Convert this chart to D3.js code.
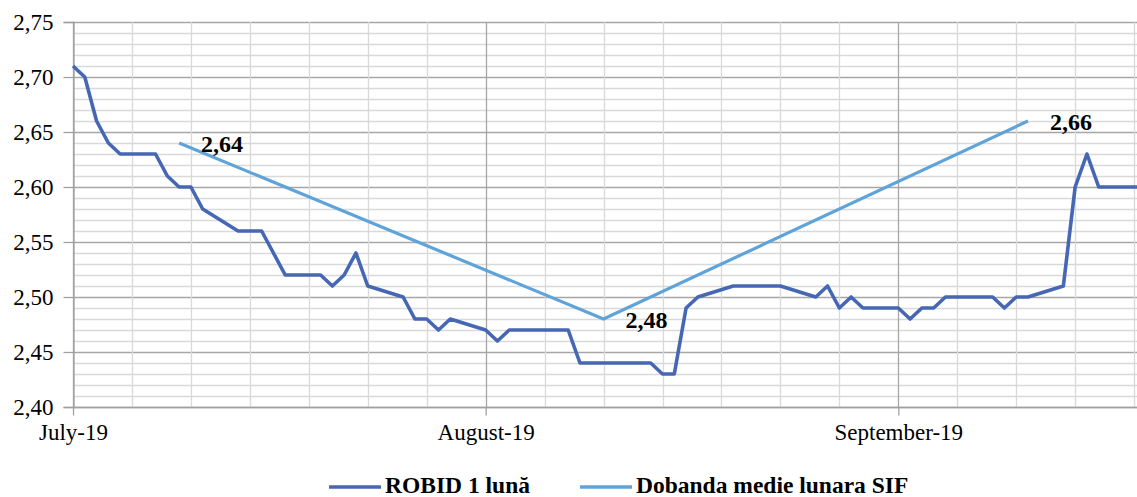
<!DOCTYPE html>
<html>
<head>
<meta charset="utf-8">
<script src="https://cdn.jsdelivr.net/npm/d3@7"></script>
<style>
  body { margin: 0; background: #fff; }
  text { font-family: "Liberation Serif", "Times New Roman", serif; }
</style>
</head>
<body>
<div id="vis"></div>
<script>
// ROBID 1 month, business days (Romanian interbank)
const robidDates = [
  "2019-07-01","2019-07-02","2019-07-03","2019-07-04","2019-07-05",
  "2019-07-08","2019-07-09","2019-07-10","2019-07-11","2019-07-12",
  "2019-07-15","2019-07-16","2019-07-17","2019-07-18","2019-07-19",
  "2019-07-22","2019-07-23","2019-07-24","2019-07-25","2019-07-26",
  "2019-07-29","2019-07-30","2019-07-31","2019-08-01","2019-08-02",
  "2019-08-05","2019-08-06","2019-08-07","2019-08-08","2019-08-09",
  "2019-08-12","2019-08-13","2019-08-14","2019-08-15","2019-08-16",
  "2019-08-19","2019-08-20","2019-08-21","2019-08-22","2019-08-23",
  "2019-08-26","2019-08-27","2019-08-28","2019-08-29","2019-08-30",
  "2019-09-02","2019-09-03","2019-09-04","2019-09-05","2019-09-06",
  "2019-09-09","2019-09-10","2019-09-11","2019-09-12","2019-09-13",
  "2019-09-16","2019-09-17","2019-09-18","2019-09-19","2019-09-20",
  "2019-09-23","2019-09-24","2019-09-25","2019-09-26","2019-09-27",
  "2019-09-30"
];
const robidValues = [
  2.71, 2.70, 2.66, 2.64, 2.63,
  2.63, 2.61, 2.60, 2.60, 2.58,
  2.56, 2.56, 2.56, 2.54, 2.52,
  2.52, 2.51, 2.52, 2.54, 2.51,
  2.50, 2.48, 2.48, 2.47, 2.48,
  2.47, 2.46, 2.47, 2.47, 2.47,
  2.47, 2.44, 2.44, 2.44, 2.44,
  2.44, 2.43, 2.43, 2.49, 2.50,
  2.51, 2.51, 2.51, 2.51, 2.51,
  2.50, 2.51, 2.49, 2.50, 2.49,
  2.49, 2.48, 2.49, 2.49, 2.50,
  2.50, 2.50, 2.49, 2.50, 2.50,
  2.51, 2.60, 2.63, 2.60, 2.60,
  2.60
];

// monthly average SIF rate
const sifDates = ["2019-07-10", "2019-08-15", "2019-09-20"];
const sifValues = [2.64, 2.48, 2.66];
const sifLabels = ["2,64", "2,48", "2,66"];

// axis: labels every 35 days, gridlines every 5 days
const monthTicks = ["2019-07-01", "2019-08-05", "2019-09-09"];
const monthLabels = ["July-19", "August-19", "September-19"];
const yTicks = [2.40, 2.45, 2.50, 2.55, 2.60, 2.65, 2.70, 2.75];

const seriesNames = ["ROBID 1 lună", "Dobanda medie lunara SIF"];
const seriesColors = ["#4667b3", "#5ea3d9"];

const W = 1137, H = 497;
const margin = { left: 73, top: 22, bottom: 407 };
const dayPx = 11.79;

const parse = d3.utcParse("%Y-%m-%d");
const start = parse("2019-07-01");
const end = parse("2019-09-30");

const x = d3.scaleUtc()
  .domain([start, end])
  .range([margin.left, margin.left + d3.utcDay.count(start, end) * dayPx]);
const y = d3.scaleLinear()
  .domain([2.40, 2.75])
  .range([margin.bottom, margin.top]);

const svg = d3.select("#vis").append("svg")
  .attr("width", W)
  .attr("height", H);

svg.append("rect").attr("width", W).attr("height", H).attr("fill", "#fff");

// horizontal gridlines (minor every 0.01, major every 0.05)
const yMinor = d3.range(0, 36).map(i => 2.40 + i * 0.01);
svg.append("g")
  .selectAll("line")
  .data(yMinor)
  .enter()
  .append("line")
    .attr("x1", margin.left).attr("x2", W)
    .attr("y1", d => Math.round(y(d)) + 0.5)
    .attr("y2", d => Math.round(y(d)) + 0.5)
    .attr("stroke", (d, i) => i % 5 === 0 ? "#a6a6a6" : "#d9d9d9")
    .attr("stroke-width", 1.3);

// vertical gridlines
const xMinor = d3.utcDay.range(start, d3.utcDay.offset(end, 1), 5);
svg.append("g")
  .selectAll("line")
  .data(xMinor)
  .enter()
  .append("line")
    .attr("x1", d => Math.round(x(d)) + 0.5)
    .attr("x2", d => Math.round(x(d)) + 0.5)
    .attr("y1", margin.top).attr("y2", margin.bottom)
    .attr("stroke", (d, i) => i % 7 === 0 ? "#a6a6a6" : "#d9d9d9")
    .attr("stroke-width", 1.3);

// y axis
const yAxis = svg.append("g")
  .attr("transform", "translate(" + (margin.left + 0.5) + ",0)")
  .call(d3.axisLeft(y).tickValues(yTicks).tickSize(10).tickPadding(10)
    .tickFormat(d => d3.format(".2f")(d).replace(".", ",")));
yAxis.select(".domain").attr("stroke", "#a0a0a0").attr("stroke-width", 1.3);
yAxis.selectAll(".tick line").attr("stroke", "#a0a0a0").attr("stroke-width", 1.3);
yAxis.selectAll("text")
  .attr("font-family", "Liberation Serif")
  .attr("font-size", 23)
  .attr("fill", "#000");

// x axis
const xAxis = svg.append("g")
  .attr("transform", "translate(0," + (margin.bottom + 0.5) + ")")
  .call(d3.axisBottom(x).tickValues(monthTicks.map(parse)).tickSize(8).tickPadding(8)
    .tickFormat((d, i) => monthLabels[i]));
xAxis.select(".domain").attr("stroke", "#a0a0a0").attr("stroke-width", 1.3)
  .attr("d", "M" + margin.left + ",0H" + W);
xAxis.selectAll(".tick line").attr("stroke", "#a0a0a0").attr("stroke-width", 1.3);
xAxis.selectAll("text")
  .attr("font-family", "Liberation Serif")
  .attr("font-size", 23)
  .attr("fill", "#000");

// lines
const robid = robidDates.map((d, i) => ({ date: parse(d), value: robidValues[i] }));
const sif = sifDates.map((d, i) => ({ date: parse(d), value: sifValues[i], label: sifLabels[i] }));

const line = d3.line().x(d => x(d.date)).y(d => y(d.value));

svg.append("path")
  .datum(sif)
  .attr("d", line)
  .attr("fill", "none")
  .attr("stroke", seriesColors[1])
  .attr("stroke-width", 3.2);

svg.append("path")
  .datum(robid)
  .attr("d", line)
  .attr("fill", "none")
  .attr("stroke", seriesColors[0])
  .attr("stroke-width", 3.6)
  .attr("stroke-linejoin", "round");

// data labels on SIF points
svg.append("g")
  .selectAll("text")
  .data(sif)
  .enter()
  .append("text")
    .attr("x", d => x(d.date) + 22)
    .attr("y", d => y(d.value) + 9)
    .attr("font-size", 24)
    .attr("font-weight", "bold")
    .text(d => d.label);

// legend
const legend = svg.append("g");
const legendX = [329, 580];
seriesNames.forEach((name, i) => {
  legend.append("line")
    .attr("x1", legendX[i]).attr("x2", legendX[i] + 52)
    .attr("y1", 487).attr("y2", 487)
    .attr("stroke", seriesColors[i])
    .attr("stroke-width", 3.6);
  legend.append("text")
    .attr("x", legendX[i] + 56)
    .attr("y", 493)
    .attr("font-size", 23.5)
    .attr("font-weight", "bold")
    .text(name);
});
</script>
</body>
</html>
